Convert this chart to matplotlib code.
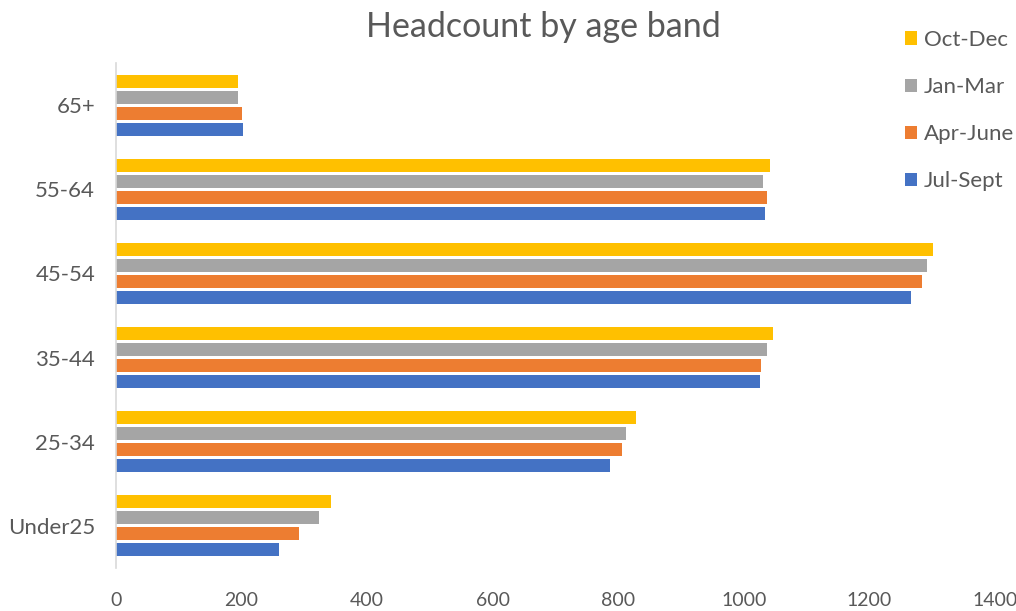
import numpy as np
import matplotlib.pyplot as plt

# age bands, bottom to top as drawn
bands = ['Under25', '25-34', '35-44', '45-54', '55-64', '65+']

# series in Excel order (first series drawn at bottom of each group)
series = ['Jul-Sept', 'Apr-June', 'Jan-Mar', 'Oct-Dec']
jul_sept = [259, 787, 1025, 1267, 1034, 203]
apr_june = [291, 806, 1028, 1283, 1037, 200]
jan_mar = [323, 812, 1037, 1292, 1031, 194]
oct_dec = [342, 828, 1047, 1301, 1041, 194]
colors = ['#4472C4', '#ED7D31', '#A5A5A5', '#FFC000']

plt.rcParams['font.family'] = ['Lato', 'DejaVu Sans']
text_col = '#595959'

fig = plt.figure(figsize=(10.16, 6.11), dpi=100)
ax = fig.add_axes([116 / 1016, 1 - 568 / 611, (995 - 116) / 1016, (568 - 63) / 611])

y = np.arange(len(bands))
slot = 0.19
bar_h = 0.155
handles = []
for i, (name, vals) in enumerate(zip(series, [jul_sept, apr_june, jan_mar, oct_dec])):
    off = (i - 1.5) * slot
    h = ax.barh(y + off, vals, height=bar_h, color=colors[i], label=name)
    handles.append(h)

ax.set_xlim(0, 1400)
ax.set_ylim(-0.5, len(bands) - 0.5)
ax.set_xticks(range(0, 1401, 200))
ax.set_yticks(y)
ax.set_yticklabels(bands)
ax.tick_params(axis='both', length=0, colors=text_col)
ax.tick_params(axis='x', pad=17, labelsize=14)
ax.tick_params(axis='y', pad=15, labelsize=16)
for s in ['top', 'right', 'bottom']:
    ax.spines[s].set_visible(False)
ax.spines['left'].set_color('#D9D9D9')
ax.spines['left'].set_linewidth(1.2)

fig.text(543 / 1016, 1 - 27 / 611, 'Headcount by age band', ha='center', va='center',
         fontsize=24.5, color=text_col)

fig.legend(handles[::-1], series[::-1], loc='upper left', bbox_to_anchor=(905 / 1016, 1 - 30 / 611),
           frameon=False, fontsize=16, labelcolor=text_col, handlelength=0.55, handleheight=0.55,
           handletextpad=0.3, labelspacing=1.22, borderpad=0, borderaxespad=0)

plt.savefig('out.png', dpi=100)
plt.close()
